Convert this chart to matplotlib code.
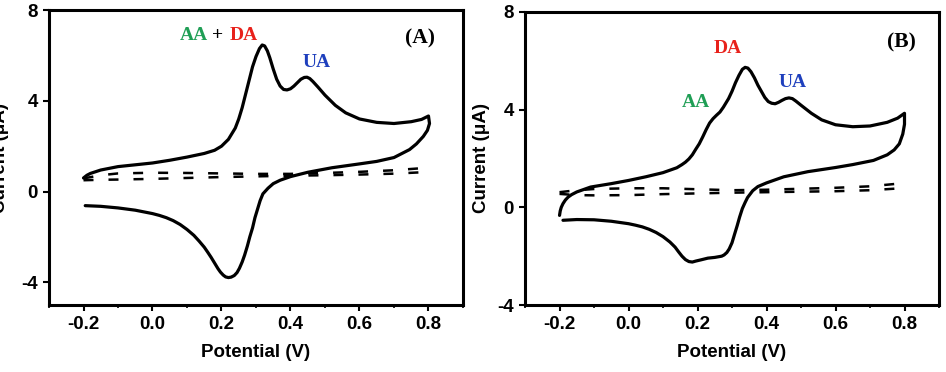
import matplotlib
matplotlib.use("Agg")
import matplotlib.pyplot as plt
import numpy as np

plt.rcParams['font.family'] = ['Liberation Sans', 'DejaVu Sans']
plt.rcParams['font.weight'] = 'bold'
plt.rcParams['axes.unicode_minus'] = False

# Panel A: CV with AA+DA+UA (solid) and blank (dashed)
a_cv_x = [-0.2, -0.19, -0.18, -0.15, -0.10, -0.05, 0.0, 0.05, 0.10, 0.15, 0.18, 0.20, 0.22,
          0.24, 0.25, 0.26, 0.27, 0.28, 0.29, 0.30, 0.31, 0.318, 0.325, 0.333, 0.34, 0.35,
          0.36, 0.37, 0.38, 0.39, 0.40, 0.41, 0.42, 0.43, 0.44, 0.448, 0.456, 0.465, 0.48,
          0.50, 0.53, 0.56, 0.60, 0.65, 0.70, 0.75, 0.78, 0.80,
          0.803, 0.797, 0.785, 0.765, 0.745, 0.70, 0.65, 0.60, 0.52, 0.45, 0.40, 0.37, 0.35,
          0.335, 0.32, 0.312, 0.305, 0.297, 0.29, 0.282, 0.275, 0.267, 0.26, 0.252, 0.245,
          0.237, 0.228, 0.22, 0.212, 0.205, 0.197, 0.19, 0.18, 0.17, 0.16, 0.15, 0.135, 0.12,
          0.10, 0.08, 0.06, 0.04, 0.02, 0.0, -0.05, -0.10, -0.15, -0.195]
a_cv_y = [0.6, 0.72, 0.8, 0.95, 1.1, 1.18, 1.26, 1.38, 1.52, 1.68, 1.82, 2.0, 2.3,
          2.8, 3.2, 3.7, 4.3, 4.9, 5.5, 5.95, 6.3, 6.46, 6.42, 6.2, 5.9, 5.4,
          4.95, 4.65, 4.5, 4.48, 4.53, 4.65, 4.8, 4.95, 5.03, 5.04, 4.98, 4.85, 4.6,
          4.25, 3.8, 3.47, 3.2, 3.05, 3.0, 3.08, 3.18, 3.33,
          3.0, 2.7, 2.43, 2.1, 1.85, 1.5, 1.33, 1.22, 1.05, 0.85, 0.66, 0.5, 0.35,
          0.15, -0.1, -0.4, -0.75, -1.15, -1.6, -2.0, -2.4, -2.8, -3.1, -3.38, -3.57,
          -3.7, -3.77, -3.79, -3.76, -3.68, -3.55, -3.4, -3.15, -2.9, -2.67, -2.45, -2.18, -1.93,
          -1.67, -1.45, -1.28, -1.15, -1.05, -0.97, -0.82, -0.72, -0.65, -0.62]

a_blank_x = [-0.2, -0.15, -0.1, 0.0, 0.1, 0.2, 0.3, 0.4, 0.5, 0.6, 0.7, 0.78]
a_blank_up = [0.58, 0.72, 0.8, 0.83, 0.82, 0.8, 0.78, 0.78, 0.82, 0.87, 0.94, 1.03]
a_blank_lo = [0.5, 0.52, 0.53, 0.56, 0.6, 0.64, 0.67, 0.7, 0.72, 0.75, 0.79, 0.85]

# Panel B
b_cv_x = [-0.2, -0.198, -0.195, -0.19, -0.183, -0.175, -0.165, -0.15, -0.11, -0.05, 0.0,
          0.05, 0.10, 0.14, 0.155, 0.165, 0.175, 0.185, 0.195, 0.205, 0.215, 0.225, 0.235,
          0.245, 0.255, 0.265, 0.275, 0.29, 0.30, 0.31, 0.32, 0.33, 0.338, 0.346, 0.355,
          0.365, 0.375, 0.385, 0.395, 0.405, 0.415, 0.425, 0.435, 0.445, 0.455, 0.465, 0.475,
          0.485, 0.50, 0.53, 0.56, 0.60, 0.65, 0.70, 0.75, 0.78, 0.80,
          0.80, 0.795, 0.785, 0.77, 0.75, 0.71, 0.65, 0.60, 0.52, 0.45, 0.40, 0.375, 0.36,
          0.345, 0.338, 0.33, 0.322, 0.315, 0.307, 0.30, 0.292, 0.285, 0.277, 0.27, 0.25,
          0.23, 0.21, 0.195, 0.185, 0.175, 0.165, 0.155, 0.145, 0.135, 0.12, 0.10, 0.08,
          0.06, 0.04, 0.02, 0.0, -0.05, -0.1, -0.15, -0.19]
b_cv_y = [-0.33, -0.15, 0.0, 0.15, 0.3, 0.42, 0.52, 0.63, 0.83, 0.97, 1.1,
          1.25, 1.42, 1.62, 1.75, 1.85, 1.98, 2.15, 2.38, 2.6, 2.88, 3.18, 3.45,
          3.63, 3.77, 3.9, 4.1, 4.45, 4.75, 5.1, 5.4, 5.65, 5.73, 5.7, 5.55,
          5.3, 5.0, 4.75, 4.5, 4.33, 4.26, 4.24, 4.3, 4.38, 4.45, 4.48, 4.45,
          4.35, 4.18, 3.85, 3.58, 3.38, 3.3, 3.33, 3.48, 3.65, 3.85,
          3.4, 3.0, 2.6, 2.35, 2.15, 1.92, 1.75, 1.63, 1.46, 1.25, 1.0, 0.85, 0.68,
          0.4, 0.2, -0.05, -0.4, -0.75, -1.12, -1.45, -1.7, -1.85, -1.95, -2.0, -2.05,
          -2.08, -2.15, -2.2, -2.24, -2.22, -2.14, -2.0, -1.82, -1.63, -1.42, -1.2, -1.03,
          -0.9, -0.8, -0.73, -0.67, -0.57, -0.51, -0.5, -0.53]

b_blank_x = [-0.2, -0.15, -0.1, 0.0, 0.1, 0.2, 0.3, 0.4, 0.5, 0.6, 0.7, 0.79]
b_blank_up = [0.62, 0.7, 0.75, 0.78, 0.78, 0.74, 0.7, 0.72, 0.76, 0.8, 0.86, 0.98]
b_blank_lo = [0.55, 0.5, 0.49, 0.5, 0.54, 0.57, 0.6, 0.62, 0.64, 0.66, 0.7, 0.78]

x_ticks = [-0.2, 0.0, 0.2, 0.4, 0.6, 0.8]
y_ticks = [-4, 0, 4, 8]

GREEN = '#1f9e55'
RED = '#e8211b'
BLUE = '#1e3fbd'
serif = ['Liberation Serif', 'DejaVu Serif']

fig = plt.figure(figsize=(9.46, 3.72), dpi=100)
axA = fig.add_axes([0.0518, 0.180, 0.4376, 0.793])
axB = fig.add_axes([0.555, 0.180, 0.4376, 0.788])


def style(ax, ylim, label_x):
    ax.set_xlim(-0.3, 0.9)
    ax.set_ylim(*ylim)
    ax.set_xticks(x_ticks)
    ax.set_xticklabels([f"{t:.1f}" for t in x_ticks])
    ax.set_xticks(np.arange(-0.3, 0.91, 0.1), minor=True)
    ax.set_yticks(y_ticks)
    ax.set_yticklabels([str(t) for t in y_ticks])
    ax.tick_params(which='major', direction='out', length=4, width=1.5,
                   labelsize=13.5, pad=4)
    ax.tick_params(which='minor', direction='out', length=2.5, width=1.2)
    ax.tick_params(axis='y', which='minor', left=False)
    for lab in ax.get_xticklabels() + ax.get_yticklabels():
        lab.set_fontweight('bold')
    for s in ax.spines.values():
        s.set_linewidth(2.2)
    ax.set_xlabel('Potential (V)', fontsize=13.5, fontweight='bold', labelpad=8)
    ax.set_ylabel('Current (\u03bcA)', fontsize=13.5, fontweight='bold')
    ax.yaxis.set_label_coords(label_x, 0.5)


def cv(ax, x, y, bx, bup, blo):
    ax.plot(x, y, color='black', lw=2.3, solid_joinstyle='round', solid_capstyle='round')
    ax.plot(bx, bup, color='black', lw=1.8, dashes=(4, 6), dash_capstyle='butt')
    ax.plot(bx, blo, color='black', lw=1.8, dashes=(4, 6), dash_capstyle='butt')


# Panel A
cv(axA, a_cv_x, a_cv_y, a_blank_x, a_blank_up, a_blank_lo)
style(axA, (-5, 8), -0.097)
axA.text(0.119, 6.9, 'AA', color=GREEN, fontsize=14, fontweight='bold', family=serif,
         ha='center', va='center')
axA.text(0.19, 6.9, '+', color='black', fontsize=14, family=serif, ha='center', va='center')
axA.text(0.265, 6.9, 'DA', color=RED, fontsize=14, fontweight='bold', family=serif,
         ha='center', va='center')
axA.text(0.475, 5.67, 'UA', color=BLUE, fontsize=14, fontweight='bold', family=serif,
         ha='center', va='center')
axA.text(0.775, 6.73, '(A)', color='black', fontsize=15.5, fontweight='bold', family=serif,
         ha='center', va='center')

# Panel B
cv(axB, b_cv_x, b_cv_y, b_blank_x, b_blank_up, b_blank_lo)
style(axB, (-4, 8), -0.085)
axB.text(0.288, 6.49, 'DA', color=RED, fontsize=14, fontweight='bold', family=serif,
         ha='center', va='center')
axB.text(0.477, 5.1, 'UA', color=BLUE, fontsize=14, fontweight='bold', family=serif,
         ha='center', va='center')
axB.text(0.196, 4.29, 'AA', color=GREEN, fontsize=14, fontweight='bold', family=serif,
         ha='center', va='center')
axB.text(0.79, 6.73, '(B)', color='black', fontsize=15.5, fontweight='bold', family=serif,
         ha='center', va='center')

fig.savefig('out.png', dpi=100)
